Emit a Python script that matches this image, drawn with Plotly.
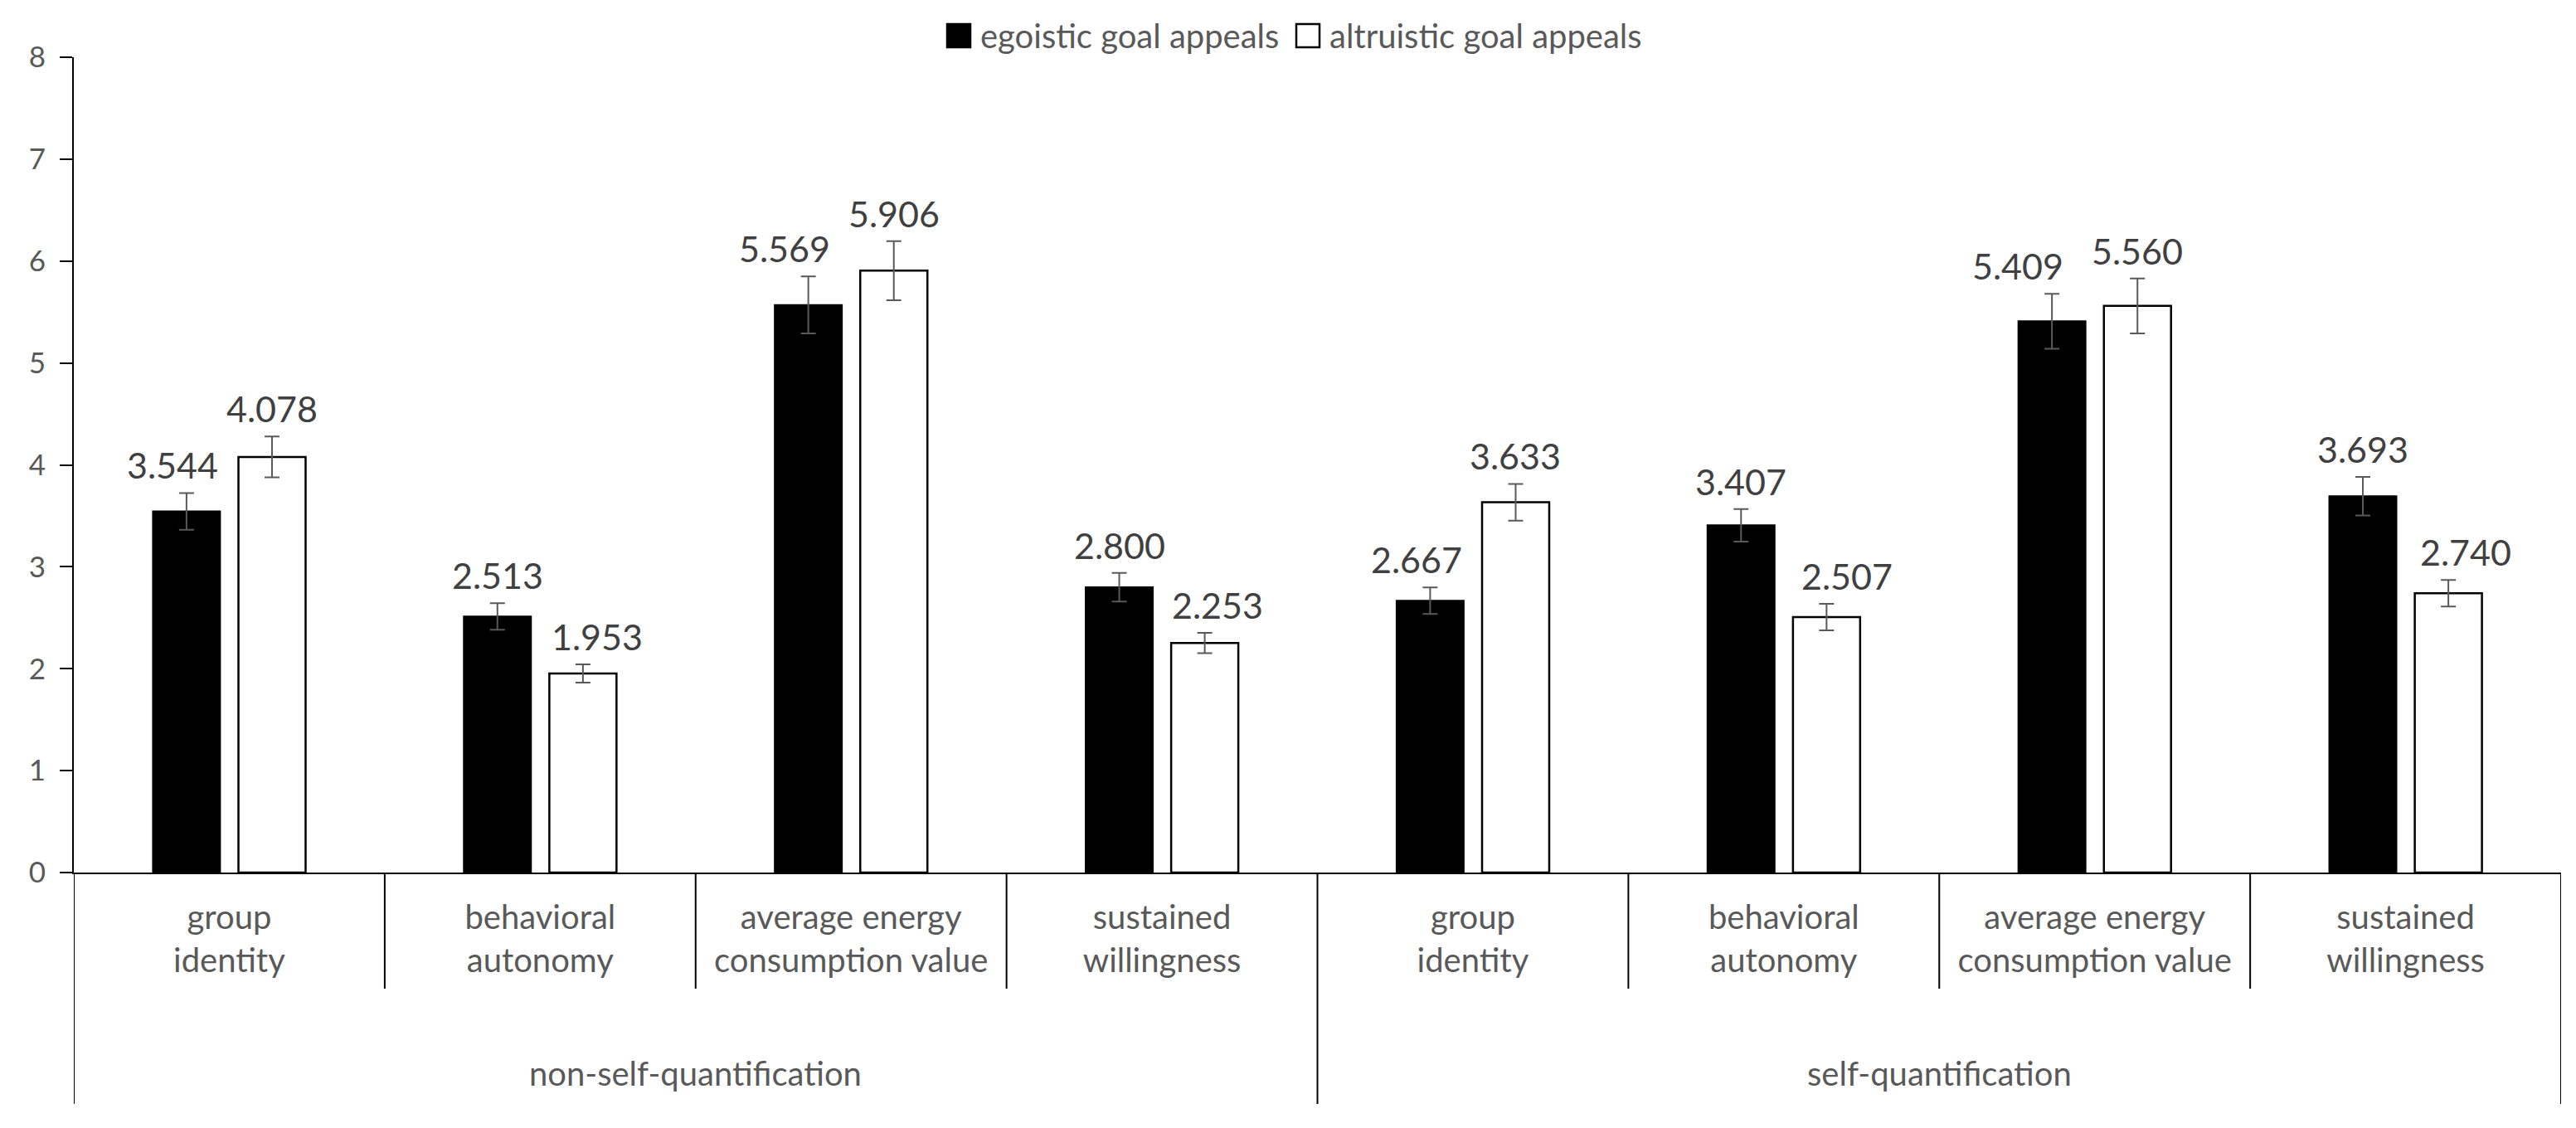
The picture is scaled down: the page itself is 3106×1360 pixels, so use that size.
import numpy as np
import plotly.graph_objects as go

# data
groups = ['non-self-quantification', 'self-quantification']
categories = ['group<br>identity', 'behavioral<br>autonomy',
              'average energy<br>consumption value', 'sustained<br>willingness'] * 2
series = ['egoistic goal appeals', 'altruistic goal appeals']
ego = [3.544, 2.513, 5.569, 2.800, 2.667, 3.407, 5.409, 3.693]
ego_err = [0.18, 0.13, 0.28, 0.14, 0.13, 0.16, 0.27, 0.19]
alt = [4.078, 1.953, 5.906, 2.253, 3.633, 2.507, 5.560, 2.740]
alt_err = [0.20, 0.09, 0.29, 0.10, 0.18, 0.13, 0.27, 0.13]

# style / layout (page pixels; the html body adds an 8px margin)
PAGE_W, PAGE_H = 3106, 1360
BODY = 8
W, H = PAGE_W - 2 * BODY, PAGE_H - 2 * BODY
PLOT_L, PLOT_R, PLOT_T, PLOT_B = 89, 3088, 69, 1052   # plot area on the page
ML, MT = PLOT_L - BODY, PLOT_T - BODY
MR = W - (PLOT_R - BODY)
MB = H - (PLOT_B - BODY)
FONT = 'Lato'
TXT = '#595959'
off = 0.1375
bw = 0.216
# label nudges (px) so numbers don't collide
ego_dx = [-17, 0, -29, 0, -16, 0, -41, 0]
alt_dx = [0, 17, 0, 15, 0, 25, 0, 21]

pw = PLOT_R - PLOT_L
ph = PLOT_B - PLOT_T
def px2x(p):
    return (p - PLOT_L) / pw
def py2y(p):
    return (PLOT_B - p) / ph

xs = np.arange(len(ego))

fig = go.Figure()
fig.add_trace(go.Bar(x=xs - off, y=ego, width=bw, name=series[0],
                     marker=dict(color='black', line=dict(color='black', width=2)),
                     error_y=dict(type='data', array=ego_err, color='#595959', thickness=2, width=9),
                     showlegend=False))
fig.add_trace(go.Bar(x=xs + off, y=alt, width=bw, name=series[1],
                     marker=dict(color='white', line=dict(color='black', width=2.5)),
                     error_y=dict(type='data', array=alt_err, color='#595959', thickness=2, width=9),
                     showlegend=False))

ann = []
for i in range(len(ego)):
    ann.append(dict(x=xs[i] - off, y=ego[i] + ego_err[i], text='{:.3f}'.format(ego[i]),
                    showarrow=False, yanchor='bottom', xshift=ego_dx[i], yshift=6,
                    font=dict(family=FONT, size=43, color='#404040')))
    ann.append(dict(x=xs[i] + off, y=alt[i] + alt_err[i], text='{:.3f}'.format(alt[i]),
                    showarrow=False, yanchor='bottom', xshift=alt_dx[i], yshift=6,
                    font=dict(family=FONT, size=43, color='#404040')))

# outer group labels
for g, name in enumerate(groups):
    ann.append(dict(x=g * 4 + 1.5, y=py2y(1294), xref='x', yref='paper', text=name,
                    showarrow=False, yanchor='middle',
                    font=dict(family=FONT, size=40, color=TXT)))

shapes = []
# dividers under the axis
for k in range(len(ego) + 1):
    xb = k - 0.5
    bottom = py2y(1331) if k % 4 == 0 else py2y(1192)
    shapes.append(dict(type='line', xref='x', yref='paper', x0=xb, x1=xb, y0=0, y1=bottom,
                       line=dict(color='black', width=2)))

# legend drawn by hand so the swatches are large
leg_sq = [(1142, 'black'), (1563, 'white')]
leg_tx = [1180, 1601]
for (sx, col), tx, name in zip(leg_sq, leg_tx, series):
    shapes.append(dict(type='rect', xref='paper', yref='paper',
                       x0=px2x(sx), x1=px2x(sx + 28), y0=py2y(57), y1=py2y(29),
                       fillcolor=col, line=dict(color='black', width=2.5)))
    ann.append(dict(x=px2x(tx), y=py2y(43), xref='paper', yref='paper', text=name,
                    showarrow=False, xanchor='left', yanchor='middle',
                    font=dict(family=FONT, size=40, color=TXT)))

fig.update_layout(width=W, height=H, margin=dict(l=ML, r=MR, t=MT, b=MB),
                  plot_bgcolor='white', paper_bgcolor='white', barmode='overlay',
                  annotations=ann, shapes=shapes, font=dict(family=FONT, color=TXT))
fig.update_xaxes(range=[-0.5, len(ego) - 0.5], tickvals=xs, ticktext=categories,
                 ticks='', showline=True, linecolor='black', linewidth=2, showgrid=False,
                 zeroline=False, tickfont=dict(family=FONT, size=40, color=TXT),
                 ticklabelstandoff=18)
fig.update_yaxes(range=[0, 8], dtick=1, ticks='outside', ticklen=15, tickwidth=2,
                 tickcolor='black', showline=True, linecolor='black', linewidth=2,
                 showgrid=False, zeroline=False, ticklabelstandoff=10,
                 tickfont=dict(family=FONT, size=35, color=TXT))

fig.write_html("out.html")
